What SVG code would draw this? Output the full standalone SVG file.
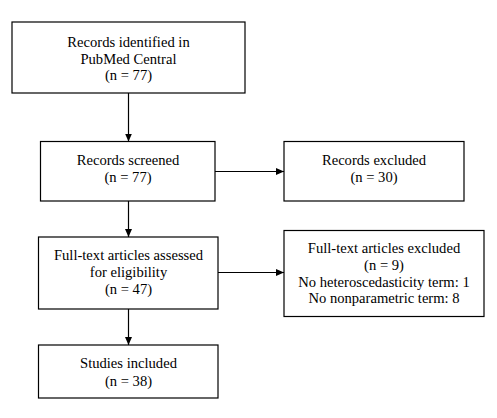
<svg xmlns="http://www.w3.org/2000/svg" width="497" height="418" viewBox="0 0 497 418">
<style>
.box{fill:#fff;stroke:#000;stroke-width:1.2}
text{font-family:'Liberation Serif','Times New Roman','DejaVu Serif',serif;font-size:14.6px;fill:#000;text-anchor:middle}
.ln{stroke:#000;stroke-width:1.2;fill:none}
</style>
<defs>
<marker id="ah" markerWidth="8" markerHeight="8" refX="8" refY="4" orient="auto" markerUnits="userSpaceOnUse">
<path d="M0,0.5 L8,4 L0,7.5 Z" fill="#000"/>
</marker>
</defs>
<rect width="497" height="418" fill="#fff"/>
<g id="connectors">
<line class="ln" x1="128.5" y1="93" x2="128.5" y2="141.5" marker-end="url(#ah)"/>
<line class="ln" x1="215" y1="171.5" x2="284" y2="171.5" marker-end="url(#ah)"/>
<line class="ln" x1="128.5" y1="201" x2="128.5" y2="237" marker-end="url(#ah)"/>
<line class="ln" x1="218" y1="272.5" x2="284" y2="272.5" marker-end="url(#ah)"/>
<line class="ln" x1="128.5" y1="309" x2="128.5" y2="345" marker-end="url(#ah)"/>
</g>
<g id="identified">
<rect class="box" x="12" y="22" width="233" height="71"/>
<text x="128.5" y="47">Records identified in</text>
<text x="128.5" y="63.5">PubMed Central</text>
<text x="128.5" y="80">(n = 77)</text>
</g>
<g id="screened">
<rect class="box" x="40.5" y="141.5" width="174.5" height="59.5"/>
<text x="128" y="165">Records screened</text>
<text x="128" y="181.5">(n = 77)</text>
</g>
<g id="excluded">
<rect class="box" x="284" y="141.5" width="180" height="59.5"/>
<text x="374" y="165">Records excluded</text>
<text x="374" y="181.5">(n = 30)</text>
</g>
<g id="fulltext">
<rect class="box" x="38.5" y="237" width="179.5" height="72"/>
<text x="128.5" y="260">Full-text articles assessed</text>
<text x="128.5" y="277">for eligibility</text>
<text x="128.5" y="294">(n = 47)</text>
</g>
<g id="ftexcluded">
<rect class="box" x="284" y="230.5" width="200" height="86"/>
<text x="384" y="253.3">Full-text articles excluded</text>
<text x="384" y="270">(n = 9)</text>
<text x="384" y="286.7">No heteroscedasticity term: 1</text>
<text x="384" y="303.3">No nonparametric term: 8</text>
</g>
<g id="included">
<rect class="box" x="38.5" y="345" width="179.5" height="53"/>
<text x="128.5" y="368.3">Studies included</text>
<text x="128.5" y="385.5">(n = 38)</text>
</g>
</svg>
